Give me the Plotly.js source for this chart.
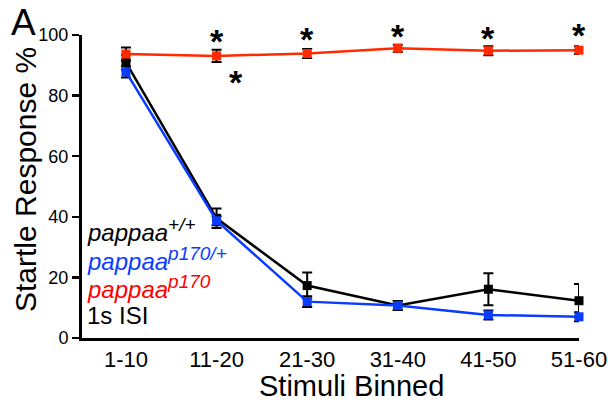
<!DOCTYPE html>
<html><head><meta charset="utf-8">
<script src="https://cdn.plot.ly/plotly-3.0.1.min.js"></script>
<style>body{margin:0;background:#fff}#c{width:612px;height:406px}</style>
</head><body><div id="c"></div>
<script>
const categories = ['1-10','11-20','21-30','31-40','41-50','51-60'];
const wtMean = [91, 39.5, 17.3, 10.7, 16.1, 12.3];
const wtErr = [2.5, 3.2, 4.3, 1.5, 5.3, 5.5];
const hetMean = [87.8, 38.7, 12.0, 10.7, 7.6, 7.0];
const hetErr = [1.8, 1.5, 1.8, 1.5, 1.5, 1.5];
const mutMean = [93.7, 93.1, 93.9, 95.6, 94.8, 95.0];
const mutErr = [2.2, 2.0, 1.5, 1.2, 1.5, 1.3];
const starIdx = [1, 2, 3, 4, 5];
const starY = [95.4, 95.9, 97.0, 96.4, 97.2];
const extraStarIdx = [1.21];
const extraStarY = [82.0];
const xTitle = 'Stimuli Binned';
const yTitle = 'Startle Response %';
const xs = categories.map((c,i)=>i);
function tr(y, e, color){
  return {x: xs, y: y, type:'scatter', mode:'lines+markers', cliponaxis:false,
    line:{color:color, width:2.5}, marker:{symbol:'square', size:9, color:color},
    error_y:{type:'data', array:e, visible:true, color:'#000', thickness:2, width:5},
    showlegend:false};
}
const data = [tr(wtMean, wtErr, '#000'), tr(hetMean, hetErr, '#0a3cff'), tr(mutMean, mutErr, '#ff2a00')];
const ann = [];
const starFont = {size:34, color:'#000', family:'Liberation Sans, Arial, sans-serif'};
starIdx.forEach((i,k)=>ann.push({x:i, y:starY[k], yshift:8, text:'<b>*</b>', showarrow:false, font:starFont, xref:'x', yref:'y', yanchor:'middle'}));
extraStarIdx.forEach((i,k)=>ann.push({x:i, y:extraStarY[k], yshift:8, text:'<b>*</b>', showarrow:false, font:starFont, xref:'x', yref:'y', yanchor:'middle'}));
const sup = s => '<sup><span style="font-size:19px">' + s + '</span></sup>';
const legendItems = [
  {t:'<i>pappaa' + sup('+/+') + '</i>', c:'#000', y:230},
  {t:'<i>pappaa' + sup('p170/+') + '</i>', c:'#0a3cff', y:259},
  {t:'<i>pappaa' + sup('p170') + '</i>', c:'#ff0000', y:287},
  {t:'1s ISI', c:'#000', y:315}
];
const pw = 579-82, ph = 338-35;
const px = p => (p-82)/pw, py = p => 1-(p-35)/ph;
legendItems.forEach(l=>ann.push({xref:'paper', yref:'paper', x:px(85), xanchor:'left', y:py(l.y), yanchor:'middle', text:l.t, showarrow:false, font:{size:24, color:l.c}}));
ann.push({xref:'paper', yref:'paper', x:px(9), y:py(22), xanchor:'left', yanchor:'middle', text:'A', showarrow:false, font:{size:37, color:'#000'}});
ann.push({xref:'paper', yref:'paper', x:px(351), y:py(386), xanchor:'center', yanchor:'middle', text:xTitle, showarrow:false, font:{size:29, color:'#000'}});
ann.push({xref:'paper', yref:'paper', x:px(25), y:py(180), xanchor:'center', yanchor:'middle', textangle:-90, text:yTitle, showarrow:false, font:{size:30, color:'#000'}});
const layout = {
  width:612, height:406, margin:{l:82, r:33, t:35, b:68},
  paper_bgcolor:'#fff', plot_bgcolor:'#fff',
  font:{family:'Liberation Sans, Arial, sans-serif', color:'#000'},
  xaxis:{range:[-0.485, 5.0], tickvals:xs, ticktext:categories, showgrid:false, zeroline:false,
    showline:true, linecolor:'#000', linewidth:3, ticks:'', tickfont:{size:22}},
  yaxis:{range:[0,100], tickvals:[0,20,40,60,80,100], showgrid:false, zeroline:false,
    showline:true, linecolor:'#000', linewidth:3, ticks:'outside', ticklen:7, tickwidth:2.5, tickcolor:'#000',
    tickfont:{size:18}},
  annotations: ann
};
Plotly.newPlot('c', data, layout, {staticPlot:true});
</script></body></html>
